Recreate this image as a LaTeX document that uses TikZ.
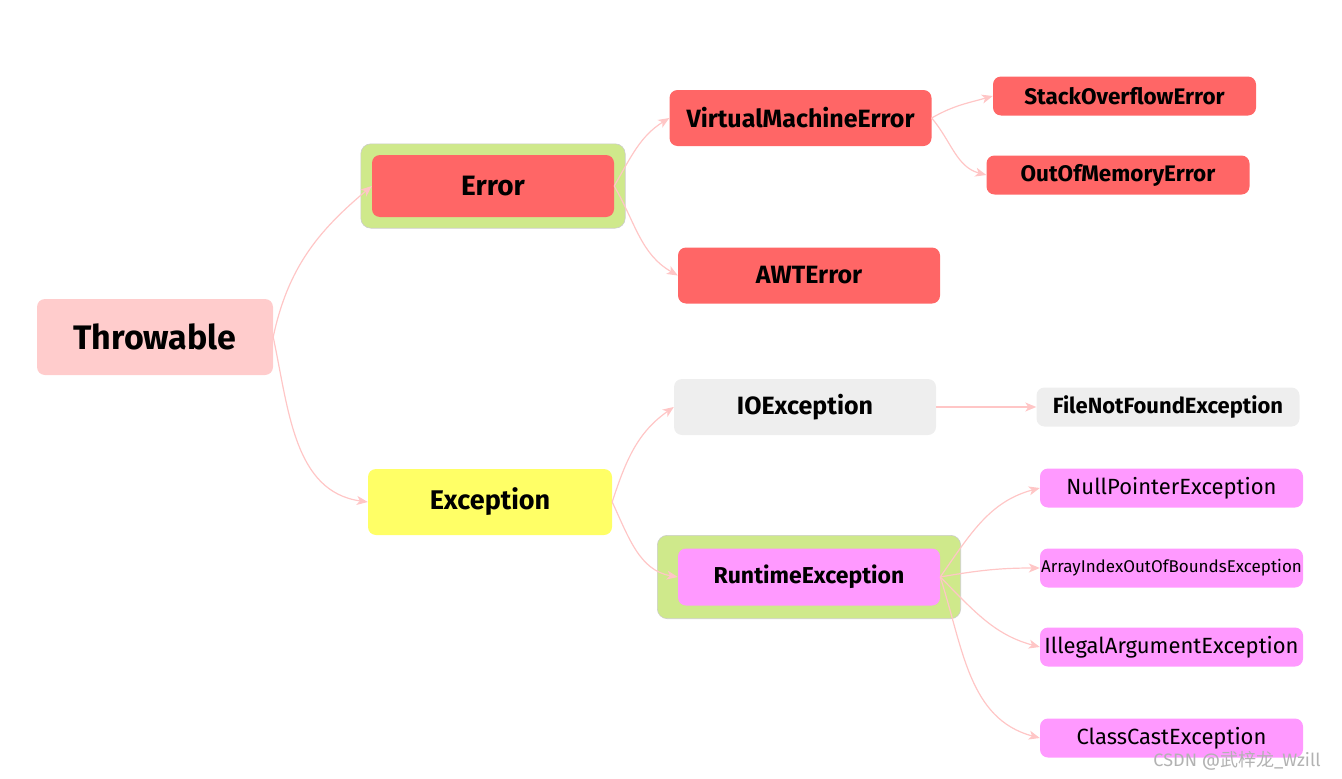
\documentclass[tikz,border=0pt]{standalone}
\usepackage{fontspec}
\setmainfont{Fira Sans}
\newfontfamily\cjkfont{Noto Sans CJK SC}
\usepackage{tikz}
\usetikzlibrary{arrows.meta,backgrounds,fit}

\definecolor{rootpink}{HTML}{FFCCCC}
\definecolor{errred}{HTML}{FF6666}
\definecolor{grpgreen}{HTML}{CFE98B}
\definecolor{excyellow}{HTML}{FFFF66}
\definecolor{ioegray}{HTML}{EEEEEE}
\definecolor{rtpink}{HTML}{FF99FF}
\definecolor{linkpink}{HTML}{FFC6C6}

\tikzset{
  box/.style={rounded corners=8pt, inner sep=0pt, text=black},
  bigbox/.style={box, minimum width=262pt, minimum height=56pt, font=\fontsize{25}{28}\selectfont\bfseries},
  smallbox/.style={box, minimum width=263pt, minimum height=39pt, font=\fontsize{22.5}{26}\selectfont\bfseries},
  leafbox/.style={box, fill=rtpink, minimum width=263pt, minimum height=39pt, font=\fontsize{22}{25}\selectfont},
  group/.style={rounded corners=10pt, fill=grpgreen, draw=black!20, line width=0.6pt},
  link/.style={-{Stealth[length=11pt, width=9pt, inset=3pt]}, color=linkpink, line width=1.2pt}
}

\begin{document}
\begin{tikzpicture}[x=1pt,y=-1pt]
  \useasboundingbox (0,0) rectangle (1342,779);

  \node[box, fill=rootpink, minimum width=236pt, minimum height=76pt,
        font=\fontsize{34}{38}\selectfont\bfseries] (throw) at (155,337) {Throwable};

  \node[bigbox, fill=errred, minimum width=242pt, minimum height=62pt,
        font=\fontsize{28}{32}\selectfont\bfseries] (error) at (493,186) {Error};
  \node[bigbox, fill=excyellow, minimum width=244pt, minimum height=66pt,
        font=\fontsize{27}{30}\selectfont\bfseries] (exc) at (490,502) {Exception};

  \node[bigbox, fill=errred] (vme) at (800.5,118) {VirtualMachineError};
  \node[bigbox, fill=errred] (awt) at (809,275.5) {AWTError};
  \node[smallbox, fill=errred] (soe) at (1124.5,96) {StackOverflowError};
  \node[smallbox, fill=errred] (oom) at (1118,175) {OutOfMemoryError};

  \node[bigbox, fill=ioegray] (ioe) at (805,407) {IOException};
  \node[smallbox, fill=ioegray, font=\fontsize{22}{25}\selectfont\bfseries] (fnf) at (1168,407) {FileNotFoundException};
  \node[bigbox, fill=rtpink, minimum height=57pt, font=\fontsize{23}{27}\selectfont\bfseries] (rte) at (809,577) {RuntimeException};

  \node[leafbox] (npe) at (1171.5,488) {NullPointerException};
  \node[leafbox, font=\fontsize{17}{20}\selectfont] (aio) at (1171.5,568) {ArrayIndexOutOfBoundsException};
  \node[leafbox] (iae) at (1171.5,647) {IllegalArgumentException};
  \node[leafbox] (cce) at (1171.5,738) {ClassCastException};

  \begin{scope}[on background layer]
    \node[group, fit=(error), inner sep=11pt] (errgrp) {};
    \node[group, fit=(rte), inner xsep=20.5pt, inner ysep=13pt] (rtegrp) {};
  \end{scope}

  \draw[link] (throw.east) to[out=78, in=220] (error.west);
  \draw[link] (throw.east) to[out=-78, in=172] (exc.west);
  \draw[link] (error.east) to[out=60, in=212] (vme.west);
  \draw[link] (error.east) to[out=-60, in=150] (awt.west);
  \draw[link] (vme.east) to[out=30, in=196] (soe.west);
  \draw[link] (vme.east) to[out=-50, in=165] (oom.west);
  \draw[link] (exc.east) to[out=72, in=215] (ioe.west);
  \draw[link] (exc.east) to[out=-65, in=170] (rte.west);
  \draw[link] (ioe.east) -- (fnf.west);
  \draw[link] (rte.east) to[out=55, in=195] (npe.west);
  \draw[link] (rte.east) to[out=10, in=180] (aio.west);
  \draw[link] (rte.east) to[out=-45, in=165] (iae.west);
  \draw[link] (rte.east) to[out=-72, in=165] (cce.west);

  % watermark
  \node[text=black!30, font=\fontsize{18}{20}\selectfont] (mark) at (1237,761) {CSDN @{\cjkfont 武梓龙}\_Wzill};
\end{tikzpicture}
\end{document}
